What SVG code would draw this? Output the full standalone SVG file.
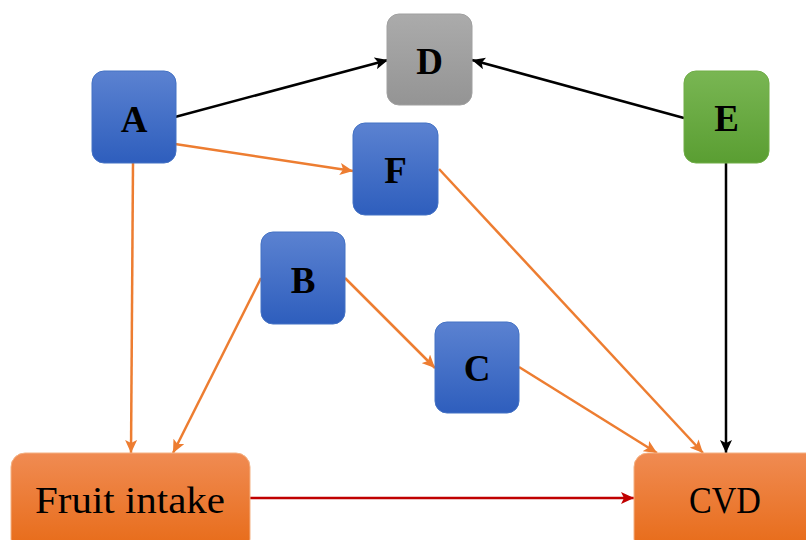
<svg xmlns="http://www.w3.org/2000/svg" width="806" height="540" viewBox="0 0 806 540">
<style>
.lbl{font-family:"Liberation Serif","DejaVu Serif",serif;font-weight:bold;font-size:37px;fill:#000;text-anchor:middle}
.big{font-family:"Liberation Serif","DejaVu Serif",serif;font-size:38px;fill:#000;text-anchor:middle}
.blue{fill:url(#gBlue);stroke:#4472C4;stroke-width:1}
.gray{fill:url(#gGray);stroke:#A0A0A0;stroke-width:1}
.green{fill:url(#gGreen);stroke:#70AD47;stroke-width:1}
.orange{fill:url(#gOrange);stroke:#F4B183;stroke-width:1}
.ek{stroke:#000;stroke-width:2.5;fill:none}
.eo{stroke:#ED7D31;stroke-width:2.5;fill:none}
.er{stroke:#C00000;stroke-width:2.5;fill:none}
</style>
<defs>
<linearGradient id="gBlue" x1="0" y1="0" x2="0" y2="1"><stop offset="0" stop-color="#5B82D1"/><stop offset="1" stop-color="#2E5EBD"/></linearGradient>
<linearGradient id="gGray" x1="0" y1="0" x2="0" y2="1"><stop offset="0" stop-color="#ABABAB"/><stop offset="1" stop-color="#949494"/></linearGradient>
<linearGradient id="gGreen" x1="0" y1="0" x2="0" y2="1"><stop offset="0" stop-color="#79B653"/><stop offset="1" stop-color="#5A9E32"/></linearGradient>
<linearGradient id="gOrange" x1="0" y1="0" x2="0" y2="1"><stop offset="0" stop-color="#F08B52"/><stop offset="1" stop-color="#E76A16"/></linearGradient>
<marker id="mk" markerUnits="userSpaceOnUse" markerWidth="14" markerHeight="12" refX="13" refY="6" orient="auto"><path d="M0,0 L13,6 L0,12 L3,6 z" fill="#000"/></marker>
<marker id="mo" markerUnits="userSpaceOnUse" markerWidth="14" markerHeight="12" refX="13" refY="6" orient="auto"><path d="M0,0 L13,6 L0,12 L3,6 z" fill="#ED7D31"/></marker>
<marker id="mr" markerUnits="userSpaceOnUse" markerWidth="14" markerHeight="12" refX="13" refY="6" orient="auto"><path d="M0,0 L13,6 L0,12 L3,6 z" fill="#C00000"/></marker>
</defs>
<g id="connectors">
<line class="ek" x1="175" y1="117" x2="388" y2="60" marker-end="url(#mk)"/>
<line class="ek" x1="684" y1="118" x2="472" y2="60" marker-end="url(#mk)"/>
<line class="ek" x1="726" y1="163" x2="726" y2="453" marker-end="url(#mk)"/>
<line class="eo" x1="175" y1="144" x2="353" y2="171" marker-end="url(#mo)"/>
<line class="eo" x1="133" y1="163" x2="131" y2="453" marker-end="url(#mo)"/>
<line class="eo" x1="261" y1="278" x2="173" y2="453" marker-end="url(#mo)"/>
<line class="eo" x1="345" y1="278" x2="435" y2="368" marker-end="url(#mo)"/>
<line class="eo" x1="439" y1="169" x2="703" y2="453" marker-end="url(#mo)"/>
<line class="eo" x1="519" y1="367" x2="657" y2="453" marker-end="url(#mo)"/>
<line class="er" x1="250" y1="498" x2="634" y2="498" marker-end="url(#mr)"/>
</g>
<g id="A"><rect class="blue" x="92" y="71" width="84" height="92" rx="12"/><text class="lbl" x="134" y="132">A</text></g>
<g id="D"><rect class="gray" x="387" y="14" width="85" height="91" rx="12"/><text class="lbl" x="429.5" y="74">D</text></g>
<g id="E"><rect class="green" x="684" y="71" width="85" height="92" rx="12"/><text class="lbl" x="726.5" y="131">E</text></g>
<g id="F"><rect class="blue" x="353" y="123" width="85" height="92" rx="12"/><text class="lbl" x="395.5" y="183">F</text></g>
<g id="B"><rect class="blue" x="261" y="232" width="84" height="92" rx="12"/><text class="lbl" x="303" y="293">B</text></g>
<g id="C"><rect class="blue" x="435" y="322" width="84" height="91" rx="12"/><text class="lbl" x="477" y="381">C</text></g>
<g id="FruitIntake"><rect class="orange" x="11" y="453" width="239" height="100" rx="14"/><text class="big" x="130" y="513" textLength="190" lengthAdjust="spacingAndGlyphs">Fruit intake</text></g>
<g id="CVD"><rect class="orange" x="634" y="453" width="190" height="100" rx="14"/><text class="big" x="725" y="513" font-size="40" textLength="72" lengthAdjust="spacingAndGlyphs">CVD</text></g>
</svg>
